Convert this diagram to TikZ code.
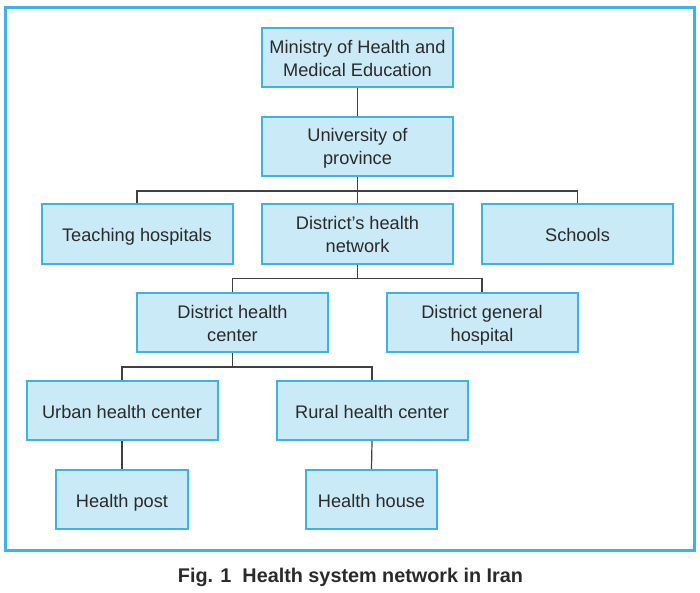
\documentclass[tikz,border=0pt]{standalone}
\usepackage{fontspec}
\setmainfont{Liberation Sans}
\definecolor{frameblue}{HTML}{3BB4E5}
\definecolor{boxfill}{HTML}{CBEAF8}
\definecolor{linegray}{HTML}{404040}
\definecolor{txtgray}{HTML}{2A2A2A}
\begin{document}
\begin{tikzpicture}[x=1pt,y=-1pt,
  box/.style={draw=frameblue,line width=2pt,fill=boxfill,minimum width=191pt,minimum height=59pt,
    inner sep=0pt,align=center,text=txtgray,font=\fontsize{18.2}{23}\selectfont},
  single/.style={text height=15pt,text depth=0pt},
  double/.style={text height=37pt,text depth=0pt},
  conn/.style={draw=linegray,line width=1.2pt}]
\useasboundingbox (0,0) rectangle (700,593);
\draw[frameblue,line width=3pt] (5,8) rectangle (694,550);
\node[box,double] (min) at (357.5,58) {Ministry of Health and\\Medical Education};
\node[box,double] (uni) at (357.5,146.5) {University of\\province};
\node[box,single] (teach) at (137,234) {Teaching hospitals};
\node[box,double] (dnet) at (357.5,234) {District's health\\network};
\node[box,single] (school) at (577.5,234) {Schools};
\node[box,double] (dhc) at (232.5,322.5) {District health\\center};
\node[box,double] (dgh) at (482,322.5) {District general\\hospital};
\node[box,single] (urban) at (122,410.5) {Urban health center};
\node[box,single] (rural) at (372,410.5) {Rural health center};
\node[box,single,minimum width=132pt] (hpost) at (122,499.5) {Health post};
\node[box,single,minimum width=131pt] (hhouse) at (371.5,499.5) {Health house};
\draw[conn] (min.south) -- (uni.north);
\draw[conn] (uni.south) -- (dnet.north);
\draw[conn] (uni.south) ++(0,14) -| (teach.north);
\draw[conn] (uni.south) ++(0,14) -| (school.north);
\draw[conn] (dnet.south) -- ++(0,14) -| (dhc.north);
\draw[conn] (dnet.south) ++(0,14) -| (dgh.north);
\draw[conn] (dhc.south) -- ++(0,14) -| (urban.north);
\draw[conn] (dhc.south) ++(0,14) -| (rural.north);
\draw[conn] (urban.south) -- (hpost.north);
\draw[conn] (rural.south) -- (hhouse.north);
\node[font=\bfseries\fontsize{19.8}{22}\selectfont,text=txtgray,anchor=base,inner sep=0pt] (cap) at (350.5,582) {Fig. 1\ \ Health system network in Iran};
\end{tikzpicture}
\end{document}
